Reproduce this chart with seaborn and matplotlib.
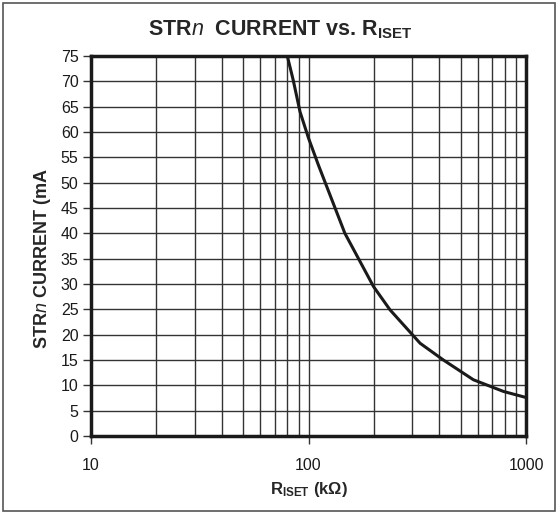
import numpy as np
import pandas as pd
import seaborn as sns
import matplotlib.pyplot as plt
from matplotlib.patches import Rectangle
from matplotlib.ticker import FixedLocator, NullFormatter

# Curve
r_iset_kohm = [79.9, 85, 91.4, 100, 111, 147, 199, 237, 326, 417, 573, 787, 1000]
current_ma = [75, 70.3, 64.0, 58.8, 53.5, 40.0, 29.5, 24.9, 18.3, 15.0, 11.1, 8.8, 7.6]

y_ticks = list(range(0, 80, 5))
x_major = [10, 100, 1000]
x_labels = ["10", "100", "1000"]

sns.set_style("white")
plt.rcParams['font.family'] = ['Liberation Sans', 'DejaVu Sans']
plt.rcParams['mathtext.fontset'] = 'custom'
plt.rcParams['mathtext.rm'] = 'Liberation Sans'
plt.rcParams['mathtext.bf'] = 'Liberation Sans:bold'
plt.rcParams['mathtext.it'] = 'Liberation Sans:italic'

df = pd.DataFrame({"r": r_iset_kohm, "i": current_ma})

fig = plt.figure(figsize=(5.58, 5.14), dpi=100)
ax = fig.add_axes([91 / 558, 78 / 514, 435 / 558, 380 / 514])

sns.lineplot(data=df, x="r", y="i", ax=ax, color="#1a1a1a", linewidth=2.2)

ax.set_xscale("log")
ax.set_xlim(10, 1000)
ax.set_ylim(0, 75)

# grid: every 5 mA and every log minor decade position
minor_pos = [m * d for d in (10, 100) for m in range(2, 10)]
ax.xaxis.set_major_locator(FixedLocator(x_major))
ax.xaxis.set_minor_locator(FixedLocator(minor_pos))
ax.xaxis.set_minor_formatter(NullFormatter())
ax.set_xticklabels(x_labels)
ax.set_yticks(y_ticks)
ax.grid(True, which="both", color="#333333", linewidth=1.0)
ax.set_axisbelow(True)

ax.tick_params(axis="both", which="major", direction="out", length=6, width=1,
               color="#333333", labelsize=11.5, labelcolor="#1a1a1a", pad=3)
ax.tick_params(axis="x", which="major", pad=10)
ax.tick_params(axis="x", which="minor", length=0)
ax.tick_params(left=True, bottom=True)

for s in ax.spines.values():
    s.set_visible(True)
    s.set_color("#1a1a1a")
    s.set_linewidth(2.5)

ax.set_xlabel(r"R$_{\mathbf{ISET}}$ (k$\mathbf{\Omega}$)", fontsize=12,
              fontweight="bold", labelpad=5)
ax.set_ylabel(r"STR$\mathit{n}$ CURRENT (mA", fontsize=13,
              fontweight="bold", labelpad=6)
ax.yaxis.set_label_coords(-0.087, 0.466)
fig.text(280 / 558, 484 / 514, r"STR$\mathit{n}$  CURRENT vs. R$_{\mathbf{ISET}}$",
         fontsize=15.5, fontweight="bold", ha="center", va="center")

fig.patches.append(Rectangle((3 / 558, 3 / 514), 552 / 558, 508 / 514,
                             transform=fig.transFigure, fill=False,
                             edgecolor="#555555", linewidth=1.2))

fig.savefig("out.png", dpi=100)
